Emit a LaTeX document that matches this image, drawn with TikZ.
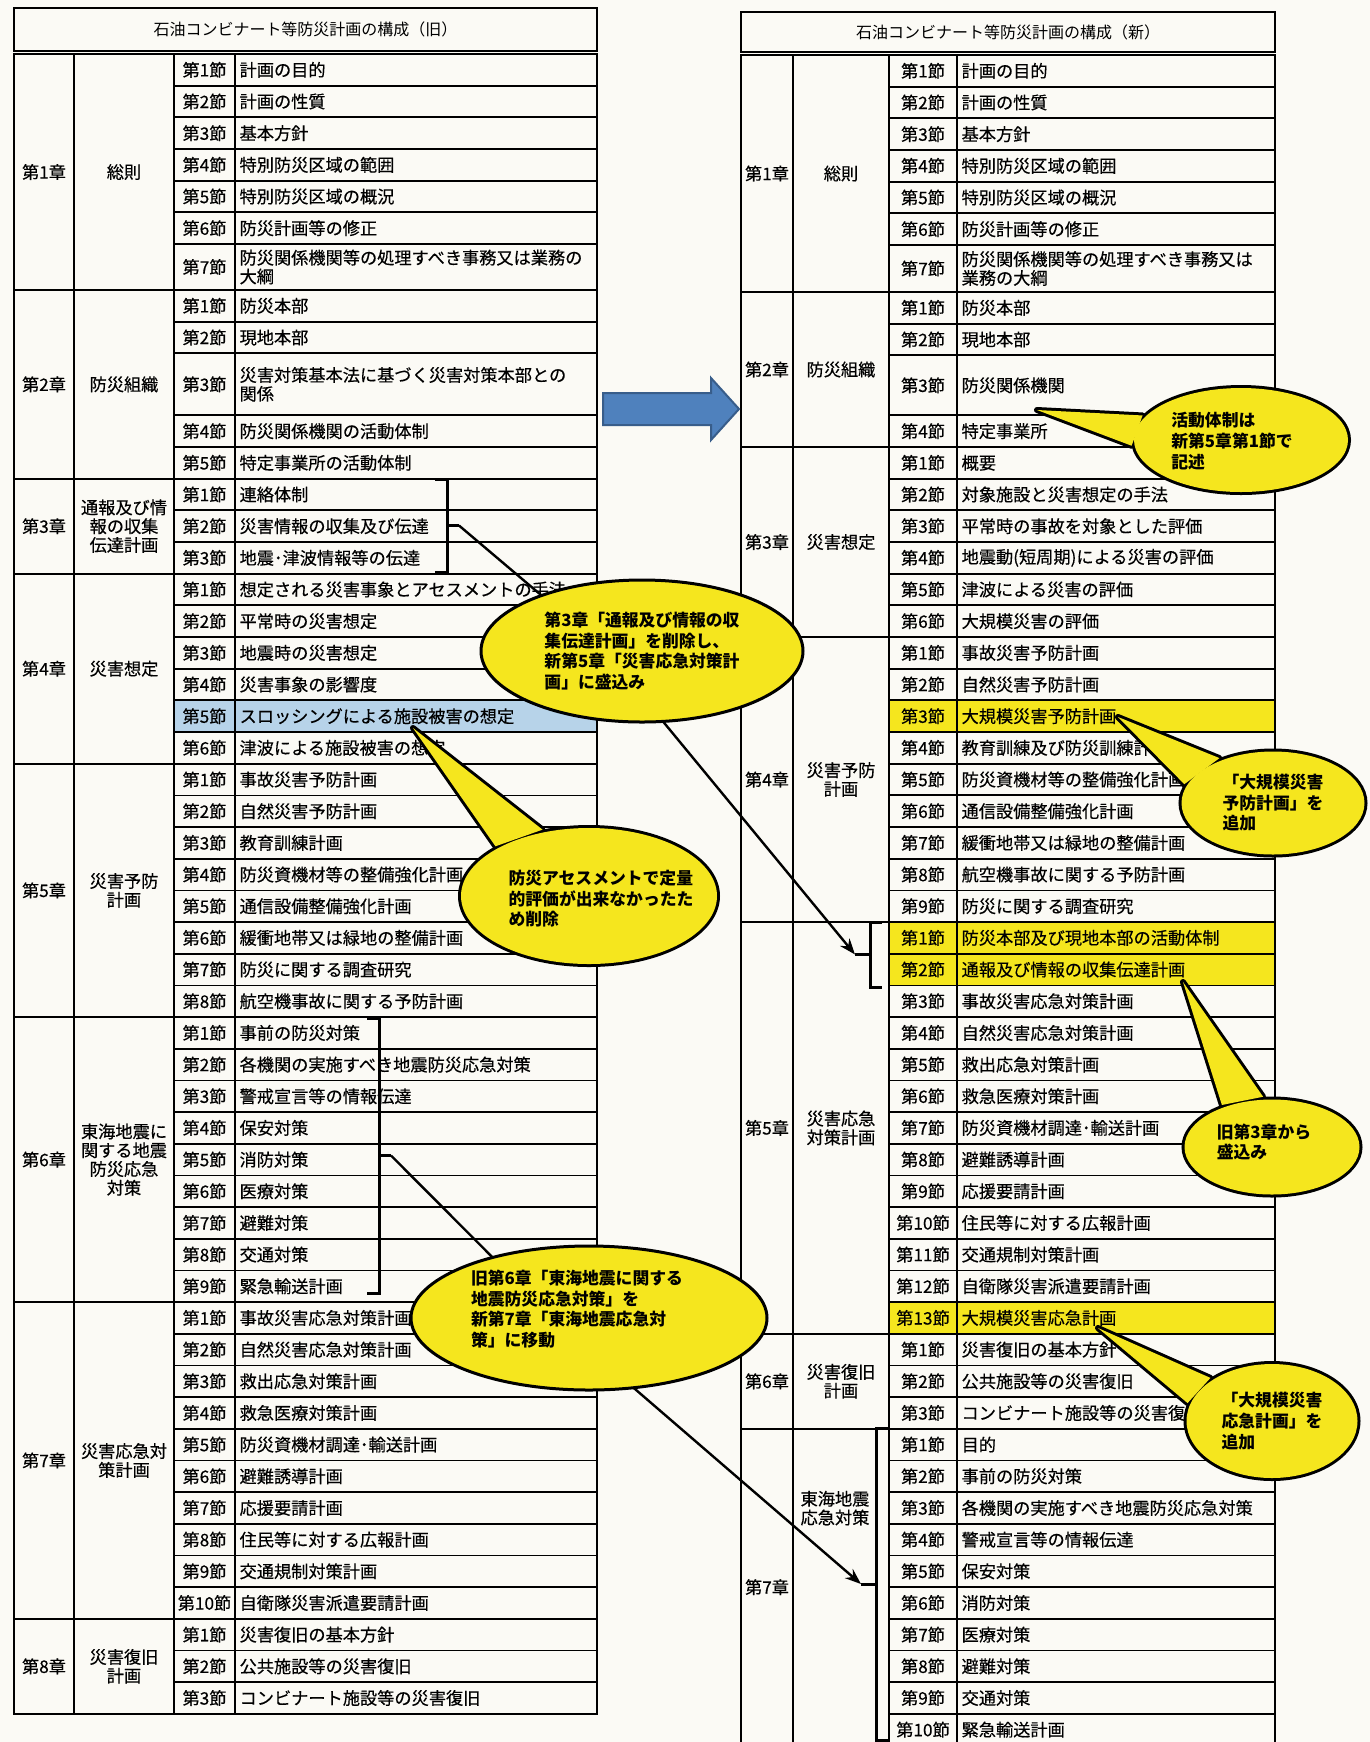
\documentclass[tikz,border=0pt]{standalone}
\usepackage{fontspec}
\setmainfont{Noto Sans CJK JP}
\newfontfamily\tbfam{Noto Sans CJK JP}[FakeBold=0.4]
\usetikzlibrary{arrows.meta, shapes.geometric, backgrounds}
\definecolor{cpaper}{HTML}{FBFAF5}
\definecolor{cyel}{HTML}{F5E61E}
\definecolor{cblue}{HTML}{B7D3E9}
\definecolor{carrow}{HTML}{4F81BD}
\definecolor{carrowdk}{HTML}{385D8A}
\newcommand{\tbfont}{\tbfam\fontsize{8.6pt}{9.4pt}\selectfont}
\newcommand{\sayfont}{\fontsize{8.4pt}{10.3pt}\selectfont\bfseries}
\tikzset{
  every picture/.style={x=0.5pt, y=-0.5pt, line width=0.9pt},
  cell/.style={draw, anchor=north west, inner sep=0pt, outer sep=0pt, font=\tbfont},
  num/.style={cell, minimum width=\numw},
  txt/.style={cell, inner xsep=2.3pt, text width=\txtw, align=left},
  title/.style={cell, font=\fontsize{8pt}{9pt}\selectfont},
  brk/.style={line width=1.5pt},
  link/.style={line width=1.2pt},
  linkarrow/.style={link, -{Stealth[length=8pt, width=6pt]}},
  bubble/.style={ellipse, draw=black, fill=cyel, inner sep=0pt, line width=1.5pt},
  say/.style={font=\sayfont, align=left, inner sep=0pt},
  bigarrow/.style={fill=carrow, draw=carrowdk, line width=1pt},
}
\newcommand{\settable}[6]{% column x's (5), first row top
  \xdef\xa{#1}\xdef\xb{#2}\xdef\xc{#3}\xdef\xd{#4}\xdef\xe{#5}\xdef\yy{#6}%
  \pgfmathsetlengthmacro\chw{(#2-#1)*0.5pt}%
  \pgfmathsetlengthmacro\namew{(#3-#2)*0.5pt}%
  \pgfmathsetlengthmacro\numw{(#4-#3)*0.5pt}%
  \pgfmathsetlengthmacro\txtw{(#5-#4)*0.5pt-4.6pt}%
}
\newcommand{\chap}[5][(0,0)]{% title shift, name, label, title, rows (height/text)
  \xdef\ytop{\yy}
  \foreach \hh/\txt [count=\i] in {#5}{
    \node[num, minimum height=\hh*15.835pt] (#2-\i) at (\xc,\yy) {第{\i}節};
    \node[txt, minimum height=\hh*15.835pt] (#2-\i-t) at (\xd,\yy) {\txt};
    \pgfmathsetmacro\ny{\yy+\hh*31.67}\xdef\yy{\ny}
  }
  \pgfmathsetlengthmacro\chh{(\yy-\ytop)*0.5pt}
  \node[cell, minimum width=\chw, minimum height=\chh] (#2) at (\xa,\ytop) {#3};
  \node[cell, minimum width=\namew, minimum height=\chh] (#2n) at (\xb,\ytop) {};
  \node[font=\tbfont, align=center, inner sep=0pt] (#2t) at ([shift={#1}]#2n.center) {#4};
}
\newcommand{\brkL}[4]{% name, x, top, bottom
  \draw[brk] (#2-12,#3) -- (#2,#3) -- (#2,#4) -- (#2-12,#4);
  \coordinate (#1) at (#2+12,{(#3+#4)/2});
  \draw[brk] (#2,{(#3+#4)/2}) -- (#1);
}
\newcommand{\brkR}[4]{% name, x, top, bottom
  \draw[brk] (#2+12,#3) -- (#2,#3) -- (#2,#4) -- (#2+12,#4);
  \coordinate (#1) at (#2-15,{(#3+#4)/2});
  \draw[brk] (#2,{(#3+#4)/2}) -- (#1);
}
\newcommand{\callout}[9][(0,0)]{% text shift, name, centre, width, height, tip, base angles, text
  \node[bubble, line width=3pt, minimum width=#4, minimum height=#5] (#2) at (#3) {};
  \coordinate (#2 tip) at (#6);
  \draw[line width=3pt, fill=cyel, line join=round] (#2 tip) -- (#2.#7) -- (#2.#8) -- cycle;
  \fill[cyel] (#2 tip) -- (#2.#7) -- (#2.#8) -- cycle;
  \node[bubble, draw=none, minimum width=#4, minimum height=#5] (#2 fill) at (#3) {};
  \node[say] (#2 text) at ([shift={#1}]#2.center) {#9};
}
\newcommand{\plainbubble}[6][(0,0)]{% text shift, name, centre, width, height, text
  \node[bubble, minimum width=#4, minimum height=#5] (#2) at (#3) {};
  \node[say] (#2 text) at ([shift={#1}]#2.center) {#6};
}

\begin{document}
\begin{tikzpicture}
  \path[use as bounding box] (0,0) rectangle (1370,1742);
  \clip (0,0) rectangle (1370,1742);
  % left: old plan
  \settable{14}{74}{174}{235}{597}{54}
  \node[title, minimum width=291.5pt, minimum height=21.5pt] (Ltitle) at (14,8) {石油コンビナート等防災計画の構成（旧）};
  \chap{L1}{第1章}{総則}{1/計画の目的, 1/計画の性質, 1/基本方針, 1/特別防災区域の範囲, 1/特別防災区域の概況, 1/防災計画等の修正, 1.452/防災関係機関等の処理すべき事務又は業務の\\大綱}
  \chap{L2}{第2章}{防災組織}{1/防災本部, 1/現地本部, 1.958/災害対策基本法に基づく災害対策本部との\\関係, 1/防災関係機関の活動体制, 1/特定事業所の活動体制}
  \chap{L3}{第3章}{通報及び情\\報の収集\\伝達計画}{1/連絡体制, 1/災害情報の収集及び伝達, 1/地震･津波情報等の伝達}
  \chap{L4}{第4章}{災害想定}{1/想定される災害事象とアセスメントの手法, 1/平常時の災害想定, 1/地震時の災害想定, 1/災害事象の影響度, 1/スロッシングによる施設被害の想定, 1/津波による施設被害の想定}
  \chap{L5}{第5章}{災害予防\\計画}{1/事故災害予防計画, 1/自然災害予防計画, 1/教育訓練計画, 1/防災資機材等の整備強化計画, 1/通信設備整備強化計画, 1/緩衝地帯又は緑地の整備計画, 1/防災に関する調査研究, 1/航空機事故に関する予防計画}
  \chap{L6}{第6章}{東海地震に\\関する地震\\防災応急\\対策}{1/事前の防災対策, 1/各機関の実施すべき地震防災応急対策, 1/警戒宣言等の情報伝達, 1/保安対策, 1/消防対策, 1/医療対策, 1/避難対策, 1/交通対策, 1/緊急輸送計画}
  \chap{L7}{第7章}{災害応急対\\策計画}{1/事故災害応急対策計画, 1/自然災害応急対策計画, 1/救出応急対策計画, 1/救急医療対策計画, 1/防災資機材調達･輸送計画, 1/避難誘導計画, 1/応援要請計画, 1/住民等に対する広報計画, 1/交通規制対策計画, 1/自衛隊災害派遣要請計画}
  \chap{L8}{第8章}{災害復旧\\計画}{1/災害復旧の基本方針, 1/公共施設等の災害復旧, 1/コンビナート施設等の災害復旧}
  % right: new plan
  \settable{741}{793}{889}{957}{1275}{55}
  \node[title, minimum width=267pt, minimum height=20pt] (Rtitle) at (741,12) {石油コンビナート等防災計画の構成（新）};
  \chap{R1}{第1章}{総則}{1/計画の目的, 1/計画の性質, 1/基本方針, 1/特別防災区域の範囲, 1/特別防災区域の概況, 1/防災計画等の修正, 1.484/防災関係機関等の処理すべき事務又は\\業務の大綱}
  \chap{R2}{第2章}{防災組織}{1/防災本部, 1/現地本部, 1.894/防災関係機関, 1/特定事業所}
  \chap{R3}{第3章}{災害想定}{1/概要, 1/対象施設と災害想定の手法, 1/平常時の事故を対象とした評価, 1/地震動(短周期)による災害の評価, 1/津波による災害の評価, 1/大規模災害の評価}
  \chap{R4}{第4章}{災害予防\\計画}{1/事故災害予防計画, 1/自然災害予防計画, 1/大規模災害予防計画, 1/教育訓練及び防災訓練計画, 1/防災資機材等の整備強化計画, 1/通信設備整備強化計画, 1/緩衝地帯又は緑地の整備計画, 1/航空機事故に関する予防計画, 1/防災に関する調査研究}
  \chap{R5}{第5章}{災害応急\\対策計画}{1/防災本部及び現地本部の活動体制, 1/通報及び情報の収集伝達計画, 1/事故災害応急対策計画, 1/自然災害応急対策計画, 1/救出応急対策計画, 1/救急医療対策計画, 1/防災資機材調達･輸送計画, 1/避難誘導計画, 1/応援要請計画, 1/住民等に対する広報計画, 1/交通規制対策計画, 1/自衛隊災害派遣要請計画, 1/大規模災害応急計画}
  \chap{R6}{第6章}{災害復旧\\計画}{1/災害復旧の基本方針, 1/公共施設等の災害復旧, 1/コンビナート施設等の災害復旧}
  \chap[(-6,-79)]{R7}{第7章}{東海地震\\応急対策}{1/目的, 1/事前の防災対策, 1/各機関の実施すべき地震防災応急対策, 1/警戒宣言等の情報伝達, 1/保安対策, 1/消防対策, 1/医療対策, 1/避難対策, 1/交通対策, 1/緊急輸送計画}
  % paper and highlighted rows
  \begin{scope}[on background layer]
    \fill[cpaper] (0,0) rectangle (1370,1742);
    \fill[cblue] (L4-5.north west) rectangle (L4-5-t.south east);
    \fill[cyel] (R4-3.north west) rectangle (R4-3-t.south east);
    \fill[cyel] (R5-1.north west) rectangle (R5-2-t.south east);
    \fill[cyel] (R5-13.north west) rectangle (R5-13-t.south east);
  \end{scope}
  % old -> new
  \draw[bigarrow] (603,393) -- (711,393) -- (711,378) -- (739,409) -- (711,440) -- (711,425) -- (603,425) -- cycle;
  % brackets and moves
  \brkL{oldB3}{447}{479}{572}
  \brkL{oldB6}{379}{1018}{1293}
  \brkR{newB5}{870}{922}{987}
  \brkR{newB7}{876}{1428}{1740}
  \coordinate (bendA) at (600,645);
  \coordinate (bendC) at (555,1320);
  \draw[linkarrow] (oldB3) -- (bendA) -- (newB5);
  \draw[linkarrow] (oldB6) -- (bendC) -- (newB7);
  % callouts
  \plainbubble{A}{642,651}{161pt}{71pt}{第3章「通報及び情報の収\\集伝達計画」を削除し、\\新第5章「災害応急対策計\\画」に盛込み}
  \callout[(12,3)]{B}{589,896}{128pt}{68pt}{413,728}{125}{152}{防災アセスメントで定量\\的評価が出来なかったた\\め削除}
  \plainbubble[(-12,-9)]{C}{589,1318}{178pt}{72pt}{旧第6章「東海地震に関する\\地震防災応急対策」を\\新第7章「東海地震応急対\\策」に移動}
  \callout[(-9,1)]{D}{1241,440}{107pt}{52pt}{1037,410}{166}{183}{活動体制は\\新第5章第1節で\\記述}
  \callout{E}{1273,803}{91.5pt}{51.5pt}{1118,717}{140}{168}{「大規模災害\\予防計画」を\\追加}
  \callout[(-8,-5)]{F}{1272,1147}{87.5pt}{47.5pt}{1183,982}{100}{140}{旧第3章から\\盛込み}
  \callout{G}{1272,1421}{85.5pt}{57pt}{1098,1328}{145}{168}{「大規模災害\\応急計画」を\\追加}
\end{tikzpicture}
\end{document}
